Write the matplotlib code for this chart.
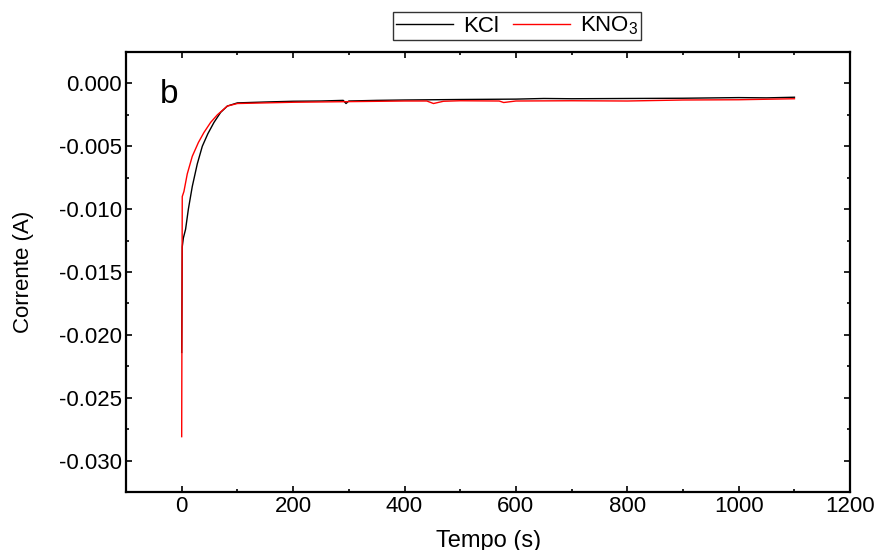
import numpy as np
import matplotlib.pyplot as plt
from matplotlib.ticker import MultipleLocator

plt.rcParams['font.family'] = ['Liberation Sans', 'DejaVu Sans']
plt.rcParams['mathtext.fontset'] = 'custom'
plt.rcParams['mathtext.rm'] = 'Liberation Sans'
plt.rcParams['mathtext.it'] = 'Liberation Sans'

# KCl
t_kcl = [0, 0, 1, 3, 7, 12, 19, 28, 37, 47, 58, 70, 82, 100, 150, 200, 250, 290, 295, 300,
         350, 400, 500, 600, 650, 700, 800, 900, 1000, 1050, 1100]
i_kcl = [-0.0214, -0.0214, -0.0130, -0.0123, -0.0116, -0.0100, -0.0082, -0.0064, -0.0050,
         -0.0040, -0.0031, -0.0023, -0.0018, -0.00155, -0.00148, -0.00142, -0.00140,
         -0.00135, -0.00160, -0.00140, -0.00135, -0.00132, -0.00128, -0.00125, -0.00120,
         -0.00122, -0.00120, -0.00118, -0.00113, -0.00115, -0.00110]

# KNO3
t_kno3 = [0, 0, 1, 4, 10, 19, 30, 40, 52, 64, 82, 100, 150, 200, 300, 400, 440, 452, 470,
          500, 570, 578, 600, 700, 800, 900, 1000, 1100]
i_kno3 = [-0.0281, -0.0281, -0.0090, -0.0086, -0.0072, -0.0058, -0.0047, -0.0039, -0.0031,
          -0.0025, -0.0018, -0.00160, -0.00155, -0.00150, -0.00145, -0.00140, -0.00140,
          -0.00160, -0.00142, -0.00138, -0.00140, -0.00152, -0.00140, -0.00138, -0.00140,
          -0.00132, -0.00130, -0.00122]

fig = plt.figure(figsize=(8.81, 5.5), dpi=100)
ax = fig.add_axes([0.143, 0.1055, 0.822, 0.80])

ax.plot(t_kcl, i_kcl, color='black', lw=1.0, label='KCl')
ax.plot(t_kno3, i_kno3, color='red', lw=1.0, label='KNO$_3$')

ax.set_xlim(-100, 1200)
ax.set_ylim(-0.0325, 0.0025)
ax.xaxis.set_major_locator(MultipleLocator(200))
ax.xaxis.set_minor_locator(MultipleLocator(100))
ax.yaxis.set_major_locator(MultipleLocator(0.005))
ax.yaxis.set_minor_locator(MultipleLocator(0.0025))
ax.yaxis.set_major_formatter(plt.FuncFormatter(lambda v, p: '%.3f' % v))

ax.tick_params(which='both', direction='in', top=True, right=True, labelsize=16, width=1.2)
ax.tick_params(which='major', length=4, pad=3)
ax.tick_params(which='minor', length=2.5)
for s in ax.spines.values():
    s.set_linewidth(1.6)

ax.set_xlabel('Tempo (s)', fontsize=17, labelpad=9)
ax.set_ylabel('Corrente (A)', fontsize=16, labelpad=18)
ax.text(0.047, 0.885, 'b', transform=ax.transAxes, fontsize=24)

leg = fig.legend(loc='center', bbox_to_anchor=(0.587, 0.953), ncol=2, fontsize=16,
                 frameon=True, fancybox=False, edgecolor='black', handlelength=2.6,
                 borderpad=0.12, columnspacing=0.6, handletextpad=0.45, borderaxespad=0)
leg.get_frame().set_linewidth(1.0)

fig.savefig('out.png', dpi=100)
